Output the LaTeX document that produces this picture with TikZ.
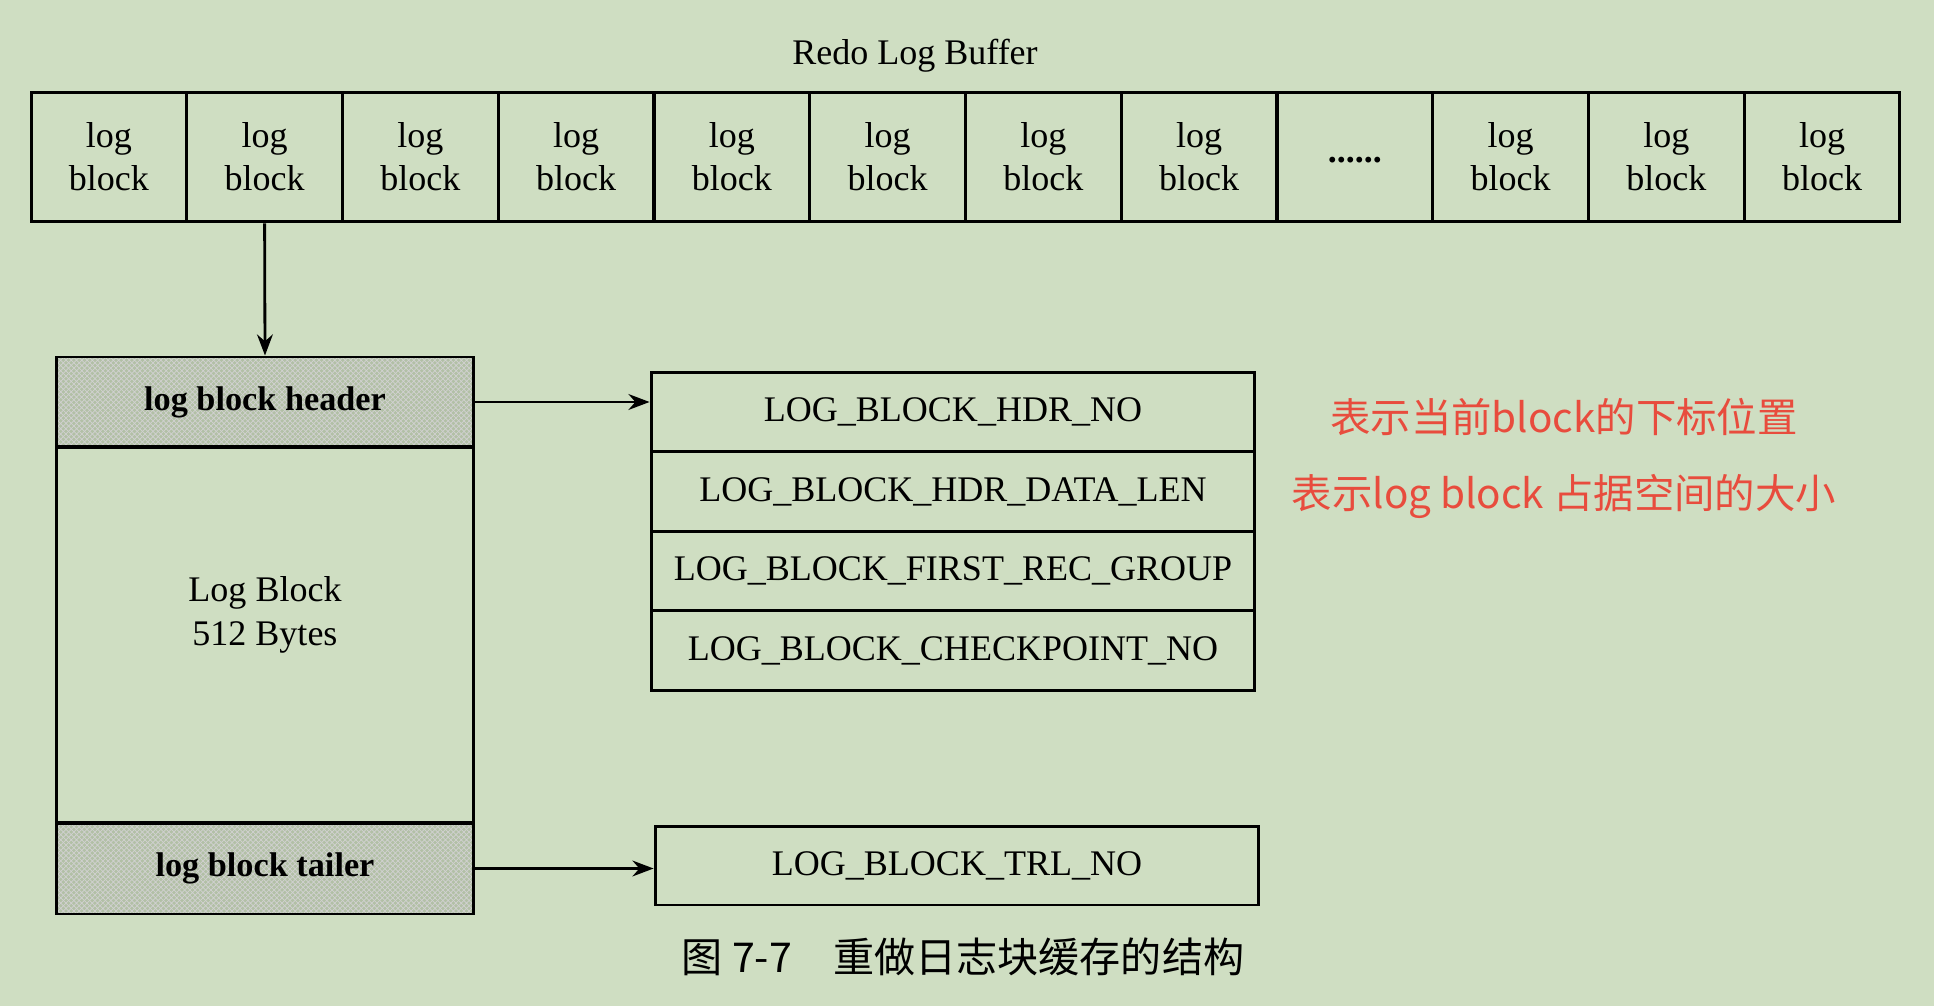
\documentclass[tikz,border=0pt]{standalone}
\usepackage{fontspec}
\setmainfont{Liberation Serif}
\newfontfamily\cjk{Noto Sans CJK SC}
\usepackage{tikz}
\pgfdeclarelayer{bglayer}
\pgfdeclarelayer{nodelayer}
\pgfdeclarelayer{edgelayer}
\pgfsetlayers{bglayer,edgelayer,nodelayer,main}
\usetikzlibrary{arrows.meta,patterns}
\definecolor{paper}{RGB}{207,222,194}
\definecolor{shade}{RGB}{178,192,166}
\definecolor{note}{RGB}{232,76,61}

\begin{document}
\begin{tikzpicture}[x=0.02cm,y=-0.02cm,
	txt/.style={font=\fontsize{20.5}{24.5}\selectfont,align=center,inner sep=0pt},
	cell/.style={txt,draw,line width=1.7pt,minimum width=3.115cm,minimum height=2.6cm},
	field/.style={txt,draw,line width=1.7pt,minimum width=12.08cm,minimum height=1.59cm},
	part/.style={txt,draw,line width=1.7pt,minimum width=8.36cm},
	hatched/.style={preaction={fill=shade},preaction={pattern=crosshatch,pattern color=black!18},font=\fontsize{19.5}{24}\selectfont\bfseries},
	conn/.style={-{Stealth[length=12pt,width=9pt]},line width=1.6pt},
	remark/.style={font=\cjk\fontsize{23}{26}\selectfont,text=note,align=center,inner sep=0pt}]
	\begin{pgfonlayer}{bglayer}
		\fill [paper] (0, 0) rectangle (1934, 1006);
	\end{pgfonlayer}
	\begin{pgfonlayer}{nodelayer}
		\node [txt] (title) at (915, 56) {Redo Log Buffer};
		\node [cell] (c1) at (108.9, 157) {log\\block};
		\node [cell] (c2) at (264.6, 157) {log\\block};
		\node [cell] (c3) at (420.4, 157) {log\\block};
		\node [cell] (c4) at (576.1, 157) {log\\block};
		\node [cell] (c5) at (731.9, 157) {log\\block};
		\node [cell] (c6) at (887.6, 157) {log\\block};
		\node [cell] (c7) at (1043.4, 157) {log\\block};
		\node [cell] (c8) at (1199.1, 157) {log\\block};
		\node [cell] (c9) at (1354.9, 157) {\raisebox{-6pt}{\textbf{......}}};
		\node [cell] (c10) at (1510.6, 157) {log\\block};
		\node [cell] (c11) at (1666.4, 157) {log\\block};
		\node [cell] (c12) at (1822.1, 157) {log\\block};
		\node [part,hatched,minimum height=1.8cm] (header) at (265, 402) {log block header};
		\node [part,minimum height=7.52cm] (body) at (265, 635) {};
		\node [txt,text depth=0pt] (size) at (265, 611) {Log Block\\512 Bytes};
		\node [part,hatched,minimum height=1.82cm] (tailer) at (265, 868.5) {log block tailer};
		\node [field] (hdrno) at (953, 412) {LOG\_BLOCK\_HDR\_NO};
		\node [field] (datalen) at (953, 491.5) {LOG\_BLOCK\_HDR\_DATA\_LEN};
		\node [field] (firstrec) at (953, 571) {LOG\_BLOCK\_FIRST\_REC\_GROUP};
		\node [field] (chkpt) at (953, 650.5) {LOG\_BLOCK\_CHECKPOINT\_NO};
		\node [field,minimum height=1.58cm] (trlno) at (957, 865.5) {LOG\_BLOCK\_TRL\_NO};
		\node [remark] (note1) at (1564, 417) {表示当前block的下标位置};
		\node [remark] (note2) at (1564, 496) {表示log block 占据空间的大小};
		\node [txt,font=\cjk\fontsize{23.4}{26}\selectfont] (caption) at (963, 957) {图 7-7\quad 重做日志块缓存的结构};
	\end{pgfonlayer}
	\begin{pgfonlayer}{edgelayer}
		\draw [conn] (c2.south) to (header.north);
		\draw [conn] (header.east) to (header.east -| hdrno.west);
		\draw [conn] (tailer.east) to (tailer.east -| trlno.west);
	\end{pgfonlayer}
\end{tikzpicture}
\end{document}
